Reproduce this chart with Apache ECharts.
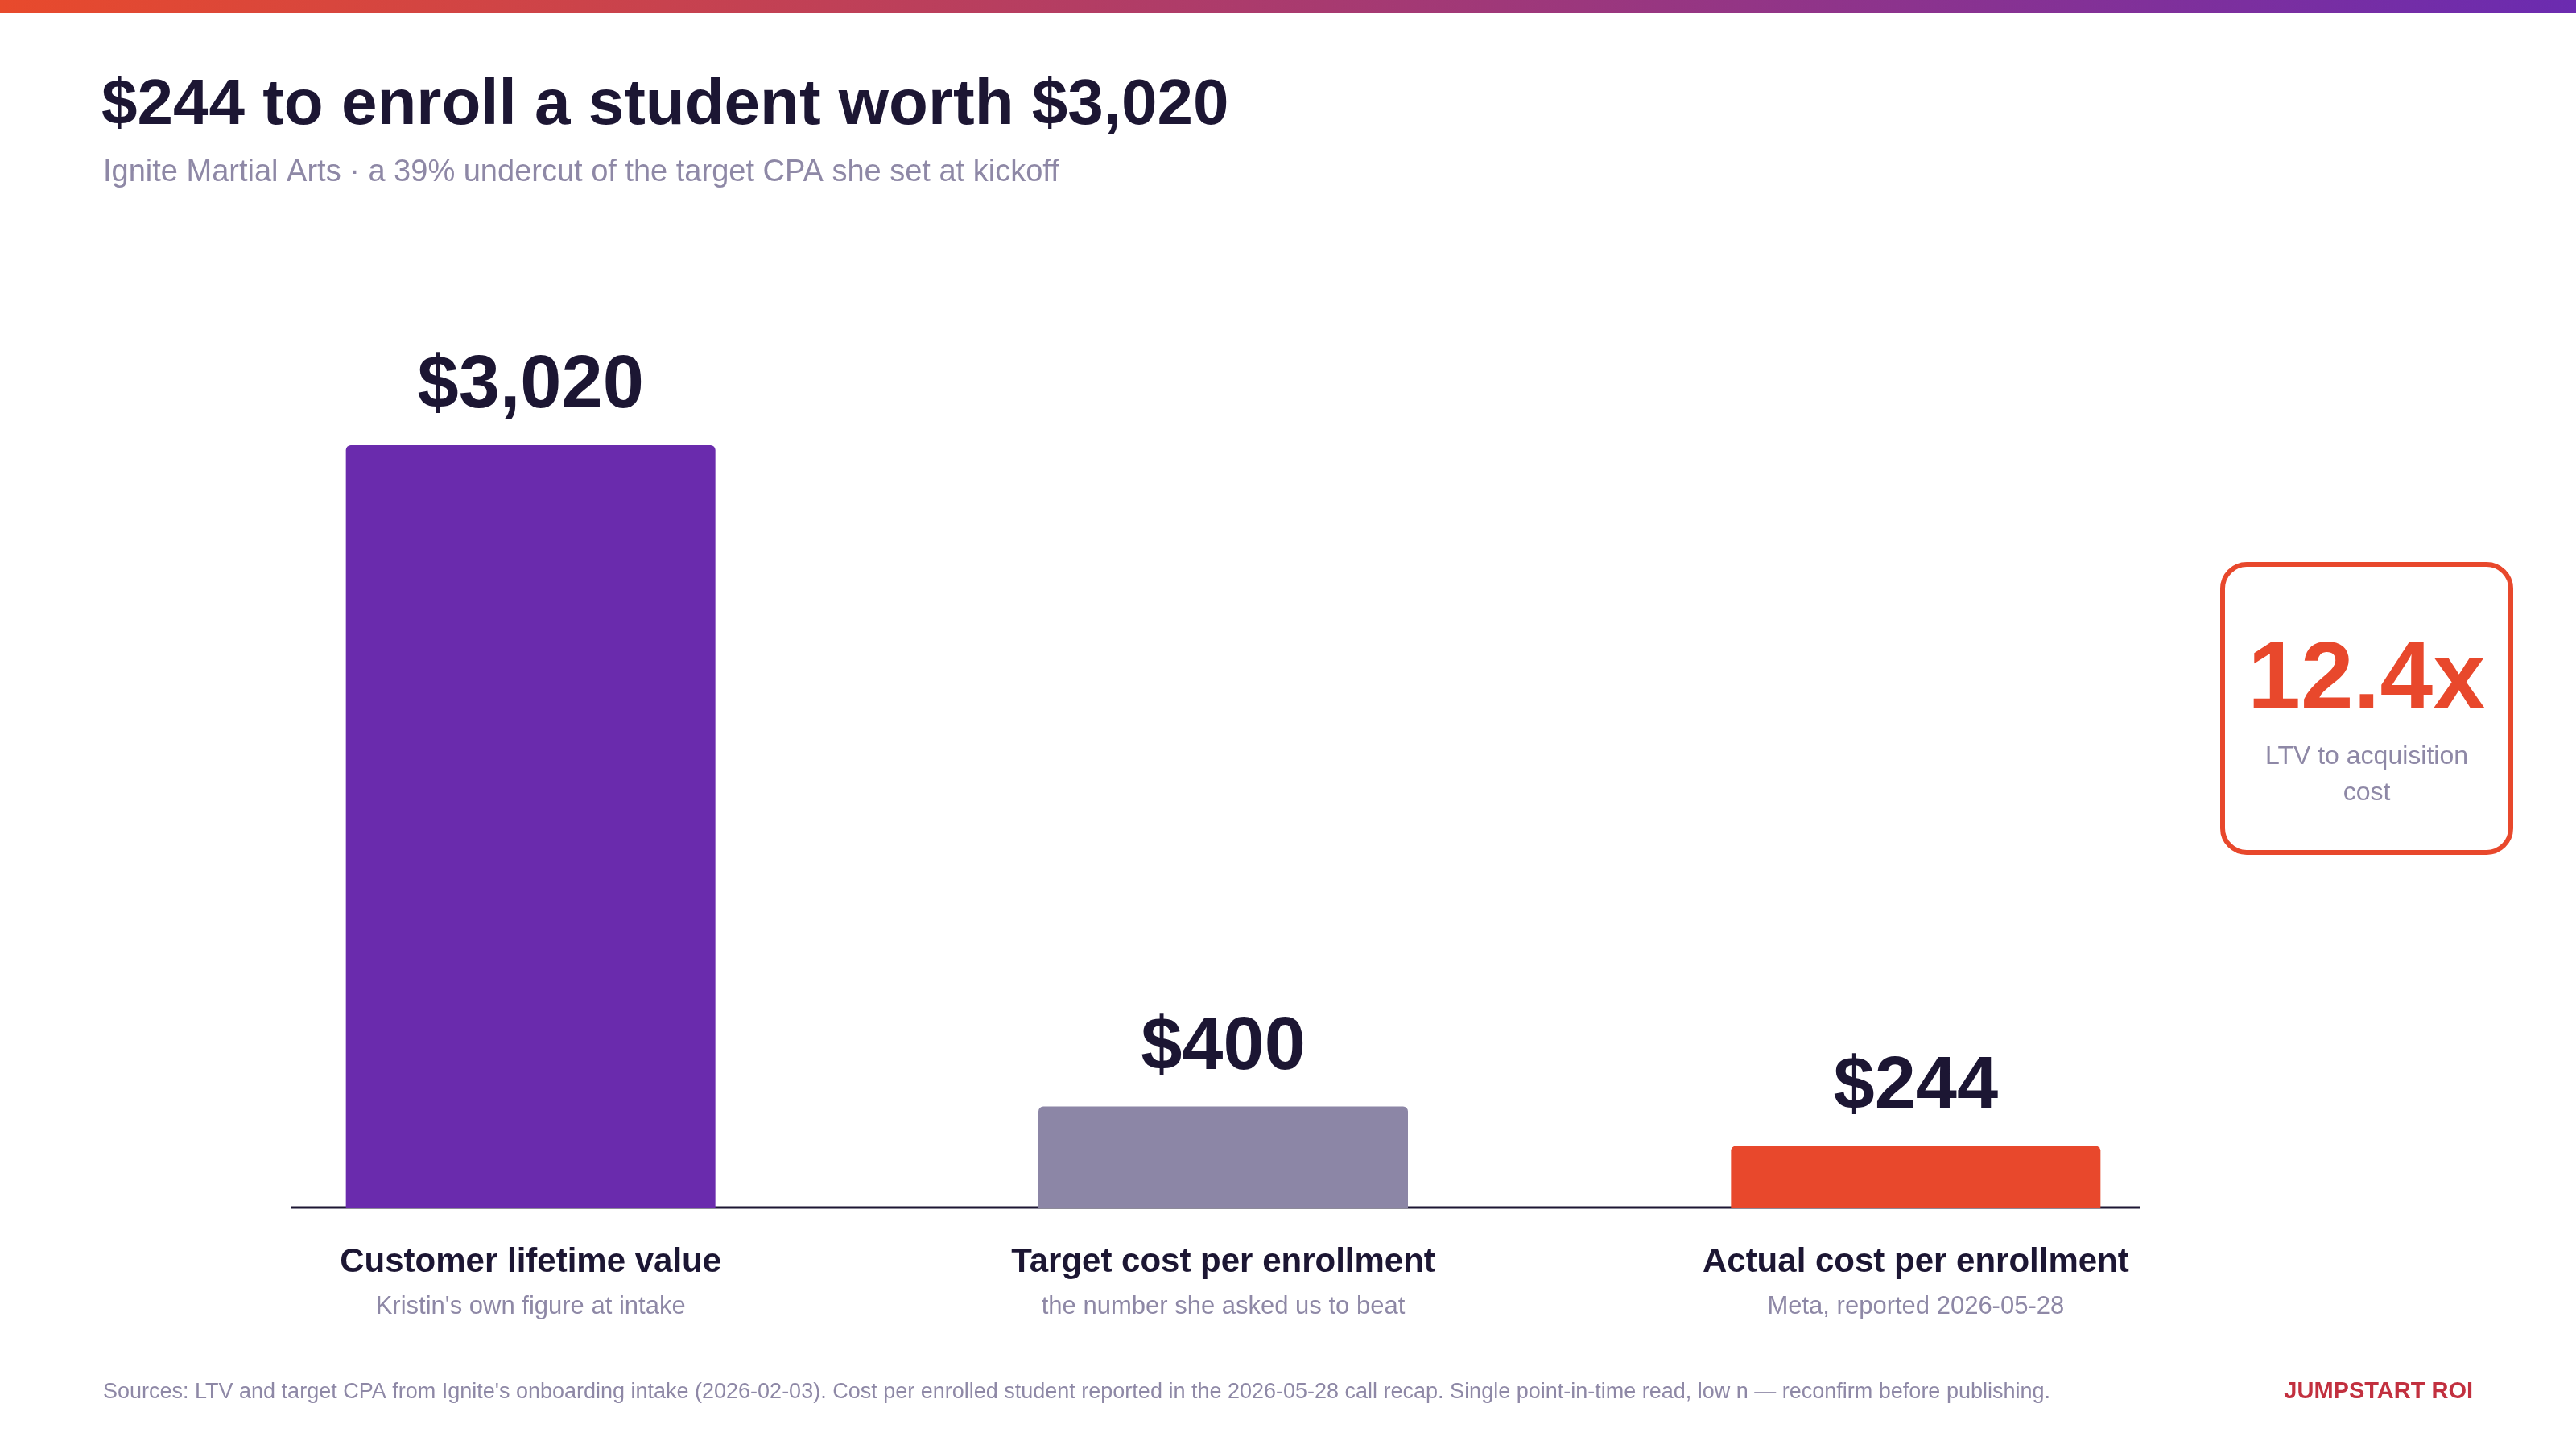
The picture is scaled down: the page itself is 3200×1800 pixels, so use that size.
<!DOCTYPE html>
<html lang="en">
  <head>
    <meta charset="UTF-8" />
    <script src="https://cdn.jsdelivr.net/npm/echarts@6/dist/echarts.min.js"></script>
    <title>Ignite LTV vs CPA</title>
    <style>
      html, body { margin: 0; padding: 0; background: #fff; }
      #app { width: 3200px; height: 1800px; }
    </style>
  </head>
  <body>
    <div id="app"></div>
    <script>
      const categories = ["Customer lifetime value", "Target cost per enrollment", "Actual cost per enrollment"];
      const notes = ["Kristin's own figure at intake", "the number she asked us to beat", "Meta, reported 2026-05-28"];
      const values = [3020, 400, 244];
      const colors = ["#6a2bad", "#8c86a6", "#e8482c"];
      const ratio = "12.4x";

      const ink = "#1c1633";
      const grey = "#8e88a6";
      const font = "Liberation Sans";

      const echart = echarts.init(document.getElementById("app"));
      echart.setOption({
        textStyle: { fontFamily: font },
        grid: { left: 229, width: 2581, top: 553, bottom: 300 },
        xAxis: {
          type: "category",
          data: categories,
          axisLine: { show: false },
          axisTick: { show: false },
          axisLabel: {
            margin: 40,
            formatter: (v, i) => "{a|" + v + "}\n{b|" + notes[i] + "}",
            rich: {
              a: { fontSize: 42, fontWeight: "bold", color: ink, lineHeight: 56, fontFamily: font },
              b: { fontSize: 31, color: grey, lineHeight: 54, fontFamily: font },
            },
          },
        },
        yAxis: { type: "value", min: 0, max: 3020, show: false },
        series: [
          {
            type: "bar",
            barWidth: 459,
            data: values.map((v, i) => ({ value: v, itemStyle: { color: colors[i], borderRadius: [6, 6, 0, 0] } })),
            label: {
              show: true,
              position: "top",
              distance: 26,
              fontSize: 92,
              fontWeight: "bold",
              color: ink,
              fontFamily: font,
              formatter: (p) => "$" + p.value.toLocaleString("en-US"),
            },
          },
        ],
        graphic: [
          {
            type: "rect",
            left: 0, top: 0,
            shape: { width: 3200, height: 16 },
            style: {
              fill: new echarts.graphic.LinearGradient(0, 0, 1, 0, [
                { offset: 0, color: "#e84a2c" },
                { offset: 1, color: "#6b2bb0" },
              ]),
            },
          },
          { type: "text", left: 126, top: 92, style: { text: "$244 to enroll a student worth $3,020", fontSize: 80, fontWeight: "bold", fill: ink, fontFamily: font } },
          { type: "text", left: 128, top: 196, style: { text: "Ignite Martial Arts · a 39% undercut of the target CPA she set at kickoff", fontSize: 38, fill: grey, fontFamily: font } },
          { type: "line", shape: { x1: 361, y1: 1500, x2: 2659, y2: 1500 }, style: { stroke: ink, lineWidth: 3 } },
          {
            type: "rect",
            shape: { x: 2761, y: 701, width: 358, height: 358, r: 30 },
            style: { fill: "#fff", stroke: "#e8482c", lineWidth: 6 },
          },
          { type: "text", x: 2940, y: 847, style: { text: ratio, fontSize: 118, fontWeight: "bold", fill: "#e8482c", align: "center", verticalAlign: "middle", fontFamily: font } },
          { type: "text", x: 2940, y: 963, style: { text: "LTV to acquisition\ncost", fontSize: 32, lineHeight: 45, fill: grey, align: "center", verticalAlign: "middle", fontFamily: font } },
          { type: "text", left: 128, top: 1716, style: { text: "Sources: LTV and target CPA from Ignite's onboarding intake (2026-02-03). Cost per enrolled student reported in the 2026-05-28 call recap. Single point-in-time read, low n — reconfirm before publishing.", fontSize: 27, fill: grey, fontFamily: font } },
          { type: "text", right: 128, top: 1714, style: { text: "JUMPSTART ROI", fontSize: 29, fontWeight: "bold", fill: "#c2303f", fontFamily: font } },
        ],
      });
    </script>
  </body>
</html>
